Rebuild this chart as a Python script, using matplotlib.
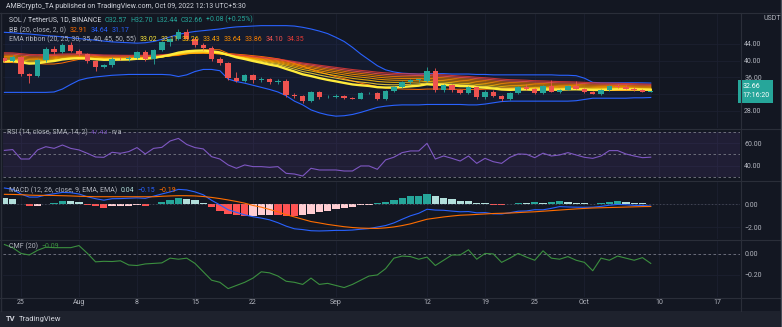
import matplotlib.pyplot as plt
from matplotlib.lines import Line2D
from matplotlib.patches import Rectangle
import numpy as np

plt.rcParams['font.family'] = ['Roboto', 'DejaVu Sans']

W, H = 782, 327

# SOL/USDT daily, day 0 = 25 Jul 2022
days = np.arange(-2, 77)

opens = np.array([
    40.6, 39.9, 40.9, 36.7, 36.4, 40.1, 42.8, 42.0, 43.8, 42.4,
    41.6, 39.9, 38.6, 38.9, 40.5, 40.4, 40.6, 42.1, 40.4, 42.6,
    44.4, 45.2, 46.8, 45.2, 43.8, 43.0, 40.4, 39.4, 35.8, 35.2,
    36.5, 35.4, 35.6, 34.8, 35.2, 31.7, 31.5, 30.3, 32.4, 31.2,
    31.4, 31.6, 31.1, 30.9, 32.2, 32.3, 30.9, 32.7, 33.7, 34.9,
    35.3, 35.2, 37.6, 32.9, 34.1, 32.9, 32.3, 33.6, 31.2, 32.6,
    31.5, 30.7, 32.3, 33.7, 33.2, 32.2, 33.9, 32.6, 33.0, 33.9,
    33.3, 32.5, 32.1, 32.9, 33.9, 33.6, 33.3, 32.9, 32.57])
highs = np.array([
    41.0, 41.3, 41.1, 37.0, 40.4, 43.3, 43.6, 44.3, 44.4, 42.8,
    41.9, 40.2, 39.3, 40.8, 41.0, 41.2, 42.4, 42.5, 42.9, 44.8,
    45.5, 47.6, 47.6, 45.6, 44.2, 43.4, 40.9, 39.7, 37.2, 36.8,
    36.8, 36.0, 35.9, 35.6, 35.5, 32.2, 31.7, 32.7, 32.8, 31.8,
    32.0, 31.8, 31.3, 32.4, 32.6, 32.6, 32.9, 33.9, 35.1, 35.6,
    35.7, 38.6, 38.3, 34.4, 34.4, 33.3, 33.9, 33.8, 32.9, 32.9,
    31.7, 32.5, 33.9, 34.5, 33.5, 34.1, 35.4, 33.2, 34.1, 35.2,
    33.5, 32.8, 33.1, 34.1, 34.3, 34.1, 33.6, 33.2, 32.70])
lows = np.array([
    39.6, 39.6, 36.4, 34.7, 36.0, 39.8, 41.6, 41.8, 42.0, 41.2,
    39.4, 37.6, 38.2, 38.6, 40.1, 40.0, 40.3, 40.0, 39.3, 42.3,
    43.5, 45.0, 44.9, 43.3, 42.6, 39.9, 39.0, 35.3, 34.8, 34.9,
    34.7, 35.0, 34.3, 34.5, 31.4, 31.1, 29.9, 30.0, 30.8, 31.0,
    31.1, 30.9, 30.7, 30.8, 31.9, 30.6, 30.6, 32.5, 33.4, 34.4,
    35.0, 34.8, 32.6, 32.5, 32.6, 32.0, 32.1, 30.9, 30.9, 31.3,
    30.4, 30.5, 32.1, 33.0, 32.0, 32.0, 32.4, 32.3, 32.9, 33.1,
    32.3, 31.9, 31.8, 32.7, 33.4, 33.1, 32.7, 32.5, 32.44])
closes = np.array([
    39.9, 40.9, 36.7, 36.4, 40.1, 42.8, 42.0, 43.8, 42.4, 41.6,
    39.9, 38.6, 38.9, 40.5, 40.4, 40.6, 42.1, 40.4, 42.6, 44.4,
    45.2, 46.8, 45.2, 43.8, 43.0, 40.4, 39.4, 35.8, 35.2, 36.5,
    35.4, 35.6, 34.8, 35.2, 31.7, 31.5, 30.3, 32.4, 31.2, 31.4,
    31.6, 31.1, 30.9, 32.2, 32.3, 30.9, 32.7, 33.7, 34.9, 35.3,
    35.5, 37.6, 32.9, 34.1, 32.9, 32.3, 33.6, 31.2, 32.6, 31.5,
    30.7, 32.3, 33.7, 33.2, 32.2, 33.9, 32.6, 33.0, 33.9, 33.3,
    32.5, 32.1, 32.9, 33.9, 33.6, 33.3, 32.9, 32.58, 32.66])

# Bollinger Bands (20, 2)
bb_upper = np.array([
    46.8, 46.7, 46.5, 46.4, 46.2, 46.0, 45.9, 45.7, 45.5, 45.3,
    45.1, 44.9, 44.7, 44.5, 44.4, 44.3, 44.2, 44.3, 44.6, 45.1,
    45.7, 46.3, 46.7, 47.0, 47.2, 47.4, 47.6, 47.9, 48.1, 48.2,
    48.3, 48.4, 48.4, 48.4, 48.4, 48.3, 48.0, 47.6, 47.1, 46.5,
    45.6, 44.6, 43.2, 41.6, 40.2, 38.8, 37.8, 37.3, 37.0, 36.9,
    36.8, 36.9, 36.9, 36.9, 36.8, 36.8, 36.8, 36.7, 36.7, 36.6,
    36.6, 36.6, 36.6, 36.6, 36.6, 36.6, 36.6, 36.5, 36.5, 36.4,
    35.8, 34.8, 34.7, 34.7, 34.7, 34.7, 34.7, 34.68, 34.64])
bb_lower = np.array([
    32.4, 32.4, 32.4, 32.4, 32.4, 32.4, 32.5, 33.2, 34.3, 35.3,
    35.8, 36.1, 36.3, 36.5, 36.6, 36.7, 36.7, 36.7, 36.7, 36.7,
    36.6, 36.2, 36.6, 37.4, 37.9, 37.9, 37.6, 35.6, 35.0, 34.6,
    34.1, 33.6, 33.1, 32.5, 31.6, 30.3, 29.4, 28.2, 27.5, 27.0,
    26.7, 26.8, 27.1, 27.6, 28.2, 28.8, 29.1, 29.3, 29.4, 29.4,
    29.4, 29.5, 29.5, 29.5, 29.5, 29.5, 29.4, 29.4, 29.6, 29.9,
    30.2, 30.3, 30.3, 30.3, 30.3, 30.3, 30.3, 30.3, 30.3, 30.4,
    30.7, 31.0, 31.0, 31.0, 31.0, 31.0, 31.1, 31.1, 31.17])

# EMA ribbon: periods and their values on the first day shown
ema_periods = [20, 25, 30, 35, 40, 45, 50, 55]
ema_first = [39.8, 40.1, 40.4, 40.7, 41.0, 41.3, 41.6, 41.9]
ema_colors = ['#ffeb3b', '#fdd835', '#ffc107', '#ffa000',
              '#ff8f00', '#f57c00', '#ef5350', '#e53935']

rsi = np.array([
    53.5, 54.2, 45.8, 45.8, 53.9, 56.8, 55.3, 58.3, 55.3, 53.9,
    50.9, 47.6, 47.3, 51.8, 50.9, 52.4, 56.0, 50.3, 55.3, 56.2,
    61.9, 64.2, 58.8, 56.0, 54.8, 47.9, 45.8, 40.5, 37.5, 40.5,
    39.0, 39.0, 38.4, 39.0, 33.0, 32.4, 30.6, 37.5, 36.0, 36.0,
    36.0, 35.1, 35.1, 39.6, 39.6, 36.6, 45.0, 47.4, 51.5, 53.0,
    53.0, 59.8, 45.8, 48.5, 46.4, 44.0, 48.5, 41.9, 46.4, 43.4,
    41.9, 47.3, 50.3, 50.0, 47.0, 51.0, 48.5, 49.4, 51.5, 49.4,
    47.3, 46.4, 48.5, 53.3, 53.3, 50.3, 48.5, 47.0, 47.43])

macd = np.array([
    1.42, 1.31, 0.89, 0.63, 0.63, 0.81, 0.92, 1.04, 1.01, 0.90,
    0.66, 0.49, 0.36, 0.49, 0.50, 0.53, 0.56, 0.52, 0.71, 0.90,
    1.08, 1.30, 1.25, 1.08, 0.83, 0.35, -0.05, -0.47, -0.70, -0.92,
    -1.08, -1.20, -1.35, -1.60, -1.90, -2.13, -2.20, -2.30, -2.32, -2.30,
    -2.27, -2.27, -2.24, -2.17, -2.11, -1.98, -1.85, -1.62, -1.30, -1.00,
    -0.78, -0.43, -0.50, -0.52, -0.59, -0.65, -0.63, -0.74, -0.72, -0.83,
    -0.84, -0.73, -0.60, -0.58, -0.47, -0.48, -0.35, -0.20, -0.23, -0.25,
    -0.26, -0.25, -0.18, -0.08, -0.01, -0.04, -0.09, -0.10, -0.15])
signal = np.array([
    0.87, 0.86, 0.84, 0.80, 0.78, 0.78, 0.77, 0.75, 0.73, 0.70,
    0.68, 0.66, 0.66, 0.66, 0.66, 0.66, 0.66, 0.66, 0.66, 0.70,
    0.73, 0.75, 0.75, 0.73, 0.68, 0.60, 0.50, 0.38, 0.25, 0.10,
    -0.10, -0.25, -0.45, -0.65, -0.90, -1.10, -1.30, -1.50, -1.62, -1.75,
    -1.85, -1.95, -2.02, -2.07, -2.09, -2.10, -2.05, -1.97, -1.85, -1.70,
    -1.50, -1.30, -1.20, -1.10, -1.02, -0.95, -0.92, -0.88, -0.84, -0.80,
    -0.78, -0.76, -0.72, -0.68, -0.65, -0.60, -0.55, -0.50, -0.45, -0.40,
    -0.36, -0.32, -0.30, -0.28, -0.26, -0.24, -0.22, -0.20, -0.19])
hist = np.array([
    0.55, 0.45, 0.05, -0.17, -0.15, 0.03, 0.15, 0.29, 0.28, 0.20,
    -0.02, -0.17, -0.30, -0.17, -0.16, -0.13, -0.10, -0.14, 0.05, 0.20,
    0.35, 0.55, 0.50, 0.35, 0.15, -0.25, -0.55, -0.85, -0.95, -1.02,
    -0.98, -0.95, -0.90, -0.95, -1.00, -1.03, -0.90, -0.80, -0.70, -0.55,
    -0.42, -0.32, -0.22, -0.10, -0.02, 0.12, 0.20, 0.35, 0.55, 0.70,
    0.72, 0.87, 0.70, 0.58, 0.43, 0.30, 0.29, 0.14, 0.12, -0.03,
    -0.06, 0.03, 0.12, 0.10, 0.18, 0.12, 0.20, 0.30, 0.22, 0.15,
    0.10, 0.07, 0.12, 0.20, 0.25, 0.20, 0.13, 0.10, 0.04])

cmf = np.array([
    0.09, 0.06, 0.005, -0.01, 0.035, 0.065, 0.06, 0.06, 0.06, 0.08,
    0.007, -0.075, -0.07, -0.072, -0.065, -0.105, -0.11, -0.095, -0.09, -0.085,
    -0.04, -0.05, -0.04, -0.09, -0.17, -0.25, -0.27, -0.33, -0.30, -0.27,
    -0.23, -0.17, -0.18, -0.21, -0.26, -0.27, -0.29, -0.23, -0.29, -0.28,
    -0.30, -0.32, -0.29, -0.25, -0.21, -0.20, -0.14, -0.04, -0.02, -0.025,
    -0.05, -0.03, -0.11, -0.06, -0.01, -0.01, 0.04, -0.05, 0.005, 0.0,
    -0.08, -0.04, 0.005, -0.03, -0.06, 0.03, -0.04, -0.05, -0.025, -0.06,
    -0.08, -0.16, -0.04, -0.06, -0.02, -0.04, -0.06, -0.035, -0.09])

tick_days = [0, 7, 14, 21, 28, 38, 49, 56, 62, 68, 77, 84]
tick_labels = ['25', 'Aug', '8', '15', '22', 'Sep', '12', '19', '25', 'Oct', '10', '17']

BG = '#131722'
TXT = '#b2b5be'
GRID = '#1c2030'
SEP = '#2a2e39'
UP, DOWN = '#26a69a', '#ef5350'
CMF_GREEN = '#3b8f3f'


def ema(values, n, first):
    k = 2 / (n + 1)
    out = [first]
    for v in values[1:]:
        out.append(out[-1] + k * (v - out[-1]))
    return np.array(out)


def fmt(v):
    return f'{v:.2f}'.replace('-', '\u2212')


fig = plt.figure(figsize=(W / 100, H / 100), dpi=100, facecolor=BG)


def pane(y0, y1, ylim, yticks, ylabels):
    ax = fig.add_axes([3 / W, 1 - y1 / H, 737 / W, (y1 - y0) / H])
    ax.set_facecolor(BG)
    for s in ax.spines.values():
        s.set_visible(False)
    ax.set_xlim(-2.17, 86.77)
    ax.set_ylim(*ylim)
    ax.set_xticks(tick_days)
    ax.set_yticks(yticks)
    ax.set_yticklabels(ylabels)
    ax.yaxis.tick_right()
    ax.tick_params(axis='y', length=0, pad=3, labelsize=5, labelcolor=TXT)
    ax.tick_params(axis='x', length=0, labelbottom=False)
    ax.grid(True, color=GRID, lw=0.6)
    ax.set_axisbelow(True)
    return ax


def label_row(ax, x, y, parts, size=5):
    t = fig.text(x / W, 1 - y / H, parts[0][0], color=parts[0][1],
                 fontsize=size, va='center', zorder=20)
    for s, c in parts[1:]:
        t = ax.annotate(s, xy=(1, 0), xycoords=t, xytext=(2.4, 0),
                        textcoords='offset points', color=c, fontsize=size,
                        va='bottom', annotation_clip=False, zorder=20)
    return t


# ---- price pane ----
# the 32.00 level sits under the last-price tag, so only its grid line is drawn
ax = pane(13, 128, (23.86, 51.43), [28, 36, 40, 44],
          ['28.00', '36.00', '40.00', '44.00'])
ax.axhline(32, color=GRID, lw=0.6, zorder=0)
ax.fill_between(days, bb_lower, bb_upper, color='#2962ff', alpha=0.06, lw=0)
ax.plot(days, bb_upper, color='#2962ff', lw=0.8)
ax.plot(days, bb_lower, color='#2962ff', lw=0.8)
bb_basis = (bb_upper + bb_lower) / 2
ax.plot(days, bb_basis, color='#ff6d00', lw=0.7)

emas = [ema(closes, n, s) for n, s in zip(ema_periods, ema_first)]
for i in range(len(emas) - 1, -1, -1):
    ax.plot(days, emas[i], color=ema_colors[i], lw=1.7 if i == 0 else 0.8,
            alpha=1 if i == 0 else 0.85, zorder=3)

ccol = np.where(closes >= opens, UP, DOWN)
ax.vlines(days, lows, highs, colors=ccol, lw=0.6, zorder=4)
ax.bar(days, np.maximum(np.abs(closes - opens), 0.1),
       bottom=np.minimum(opens, closes), width=0.66, color=ccol, zorder=5)

ax.text(1.003, closes[-1], f'{closes[-1]:.2f}\n17:16:20',
        transform=ax.get_yaxis_transform(), ha='left', va='center',
        fontsize=5, color='white', linespacing=1.35, clip_on=False, zorder=10,
        bbox=dict(boxstyle='square,pad=0.55', fc=UP, ec='none'))
fig.text(763 / W, 1 - 18 / H, 'USDT', color=TXT, fontsize=5, va='center')

chg = closes[-1] - closes[-2]
label_row(ax, 9, 20, [('SOL / TetherUS, 1D, BINANCE', '#d1d4dc'),
                      (f'O{opens[-1]:.2f}', UP), (f'H{highs[-1]:.2f}', UP),
                      (f'L{lows[-1]:.2f}', UP), (f'C{closes[-1]:.2f}', UP),
                      (f'+{chg:.2f} (+{chg / closes[-2] * 100:.2f}%)', UP)])
label_row(ax, 9, 30, [('BB (20, close, 2, 0)', TXT),
                      (fmt(bb_basis[-1]), '#ff6d00'),
                      (fmt(bb_upper[-1]), '#2962ff'),
                      (fmt(bb_lower[-1]), '#2962ff')])
label_row(ax, 9, 39.5, [('EMA ribbon (20, 25, 30, 35, 40, 45, 50, 55)', TXT)] +
          [(fmt(e[-1]), c) for e, c in zip(emas, ema_colors)])

# ---- RSI pane ----
ax2 = pane(129, 180, (27.05, 72.6), [40, 60], ['40.00', '60.00'])
ax2.axhspan(30, 70, color='#7e57c2', alpha=0.12, lw=0)
for lvl in (70, 50, 30):
    ax2.axhline(lvl, color='#787b86', lw=0.6, ls=(0, (3, 3)))
ax2.plot(days, rsi, color='#7e57c2', lw=0.8)
label_row(ax2, 7, 132, [('RSI (14, close, SMA, 14, 2)', TXT),
                        (fmt(rsi[-1]), '#7e57c2'), ('n/a', TXT)])

# ---- MACD pane ----
ax3 = pane(181, 239, (-3.02, 2.03), [0, -2], ['0.00', '\u22122.00'])
prev = np.r_[hist[0], hist[:-1]]
hcol = [(UP if h > p else '#b2dfdb') if h >= 0 else ('#ffcdd2' if h > p else '#ff5252')
        for h, p in zip(hist, prev)]
ax3.bar(days, hist, width=0.88, color=hcol, zorder=2)
ax3.axhline(0, color='#787b86', lw=0.5, ls=(0, (2, 3)), alpha=0.6)
ax3.plot(days, macd, color='#2962ff', lw=0.8, zorder=3)
ax3.plot(days, signal, color='#ff6d00', lw=0.8, zorder=3)
label_row(ax3, 9, 190, [('MACD (12, 26, close, 9, EMA, EMA)', TXT),
                        (fmt(hist[-1]), '#b2dfdb'), (fmt(macd[-1]), '#2962ff'),
                        (fmt(signal[-1]), '#ff6d00')])

# ---- CMF pane ----
ax4 = pane(240, 297, (-0.41, 0.133), [0, -0.2], ['0.00', '\u22120.20'])
ax4.axhline(0, color='#787b86', lw=0.6, ls=(0, (3, 3)))
ax4.plot(days, cmf, color=CMF_GREEN, lw=0.8)
ax4.set_xticklabels(tick_labels)
ax4.tick_params(axis='x', labelbottom=True, pad=1.5, labelsize=5, labelcolor=TXT)
label_row(ax4, 9, 246, [('CMF (20)', TXT), (fmt(cmf[-1]), CMF_GREEN)])

# ---- frame: separators, header and footer ----
for y in (12.5, 128.5, 180.5, 239.5, 297.5):
    fig.add_artist(Line2D([0, 780 / W], [1 - y / H] * 2, color=SEP, lw=0.8))
fig.add_artist(Line2D([740.5 / W] * 2, [1 - 12.5 / H, 1 - 311 / H], color=SEP, lw=0.8))
fig.add_artist(Line2D([1 / W] * 2, [1 - 12.5 / H, 1 - 311 / H], color=SEP, lw=1))
fig.add_artist(Rectangle((0, 0), 780 / W, 16 / H, transform=fig.transFigure,
                         fc='#1e222d', ec='none'))
fig.add_artist(Line2D([780.5 / W] * 2, [0, 1], color='#4a4e59', lw=1))
fig.text(6 / W, 1 - 6.5 / H,
         'AMBCrypto_TA published on TradingView.com, Oct 09, 2022 12:13 UTC+5:30',
         color='#d1d4dc', fontsize=5, va='center')
fig.text(6 / W, 1 - 318.5 / H, 'TV', color='#d1d4dc', fontsize=5.5,
         fontweight='bold', va='center')
fig.text(19 / W, 1 - 318.5 / H, 'TradingView', color='#d1d4dc', fontsize=5.5,
         va='center')

fig.savefig('out.png', dpi=100, facecolor=BG)
